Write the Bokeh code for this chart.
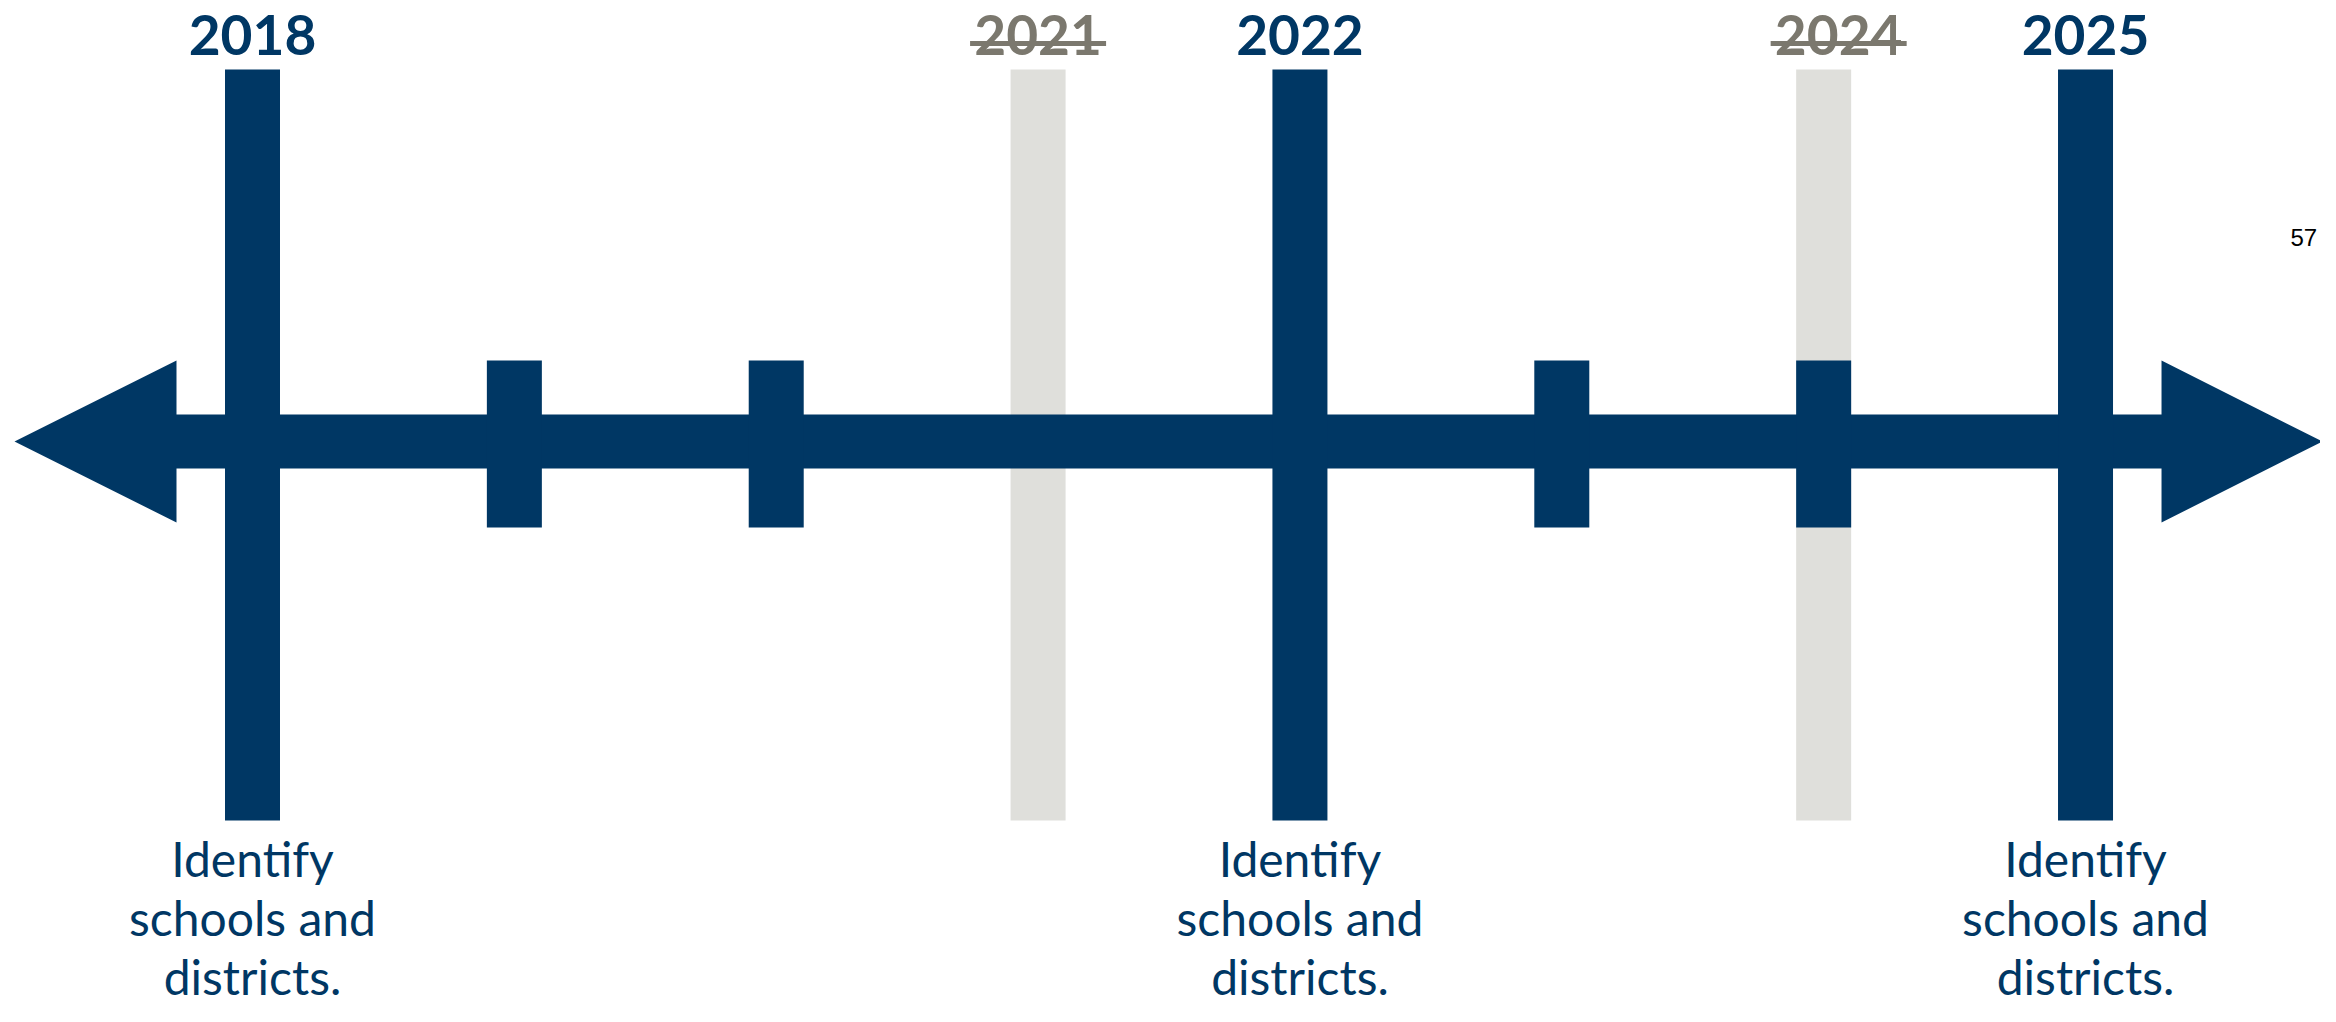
from bokeh.plotting import figure
from bokeh.models import Range1d
from bokeh.core.properties import value
from bokeh.embed import file_html
from bokeh.resources import INLINE

# ---------------- data ----------------
milestone_years = [2018, 2021, 2022, 2024, 2025]
milestone_status = ["active", "cancelled", "active", "cancelled", "active"]
minor_tick_years = [2019, 2020, 2023, 2024]
label_years = [2018, 2022, 2025]
label_text = ["Identify\nschools and\ndistricts."] * 3
page_number = "57"

NAVY = "#003764"
GRAY_BAR = "#dfdfdb"
GRAY_TEXT = "#7b786e"

PX_PER_YEAR = 261.86
W, H = 2320, 1006
x0 = min(milestone_years) - 252 / PX_PER_YEAR
x1 = x0 + W / PX_PER_YEAR
y_top = 441
y_bot = y_top - H  # data units = pixels above axis line

p = figure(width=W, height=H, output_backend="svg", toolbar_location=None,
           x_range=Range1d(x0, x1), y_range=Range1d(y_bot, y_top),
           min_border=0, background_fill_color="white", border_fill_color="white")
p.axis.visible = False
p.grid.visible = False
p.outline_line_color = None

bar_w = 55 / PX_PER_YEAR
long_top, long_bot = 372, -379
tick_top, tick_bot = 81, -86

active = [y for y, s in zip(milestone_years, milestone_status) if s == "active"]
cancelled = [y for y, s in zip(milestone_years, milestone_status) if s == "cancelled"]

# cancelled (gray) long bars behind everything
p.vbar(x=cancelled, width=bar_w, top=long_top, bottom=long_bot,
       fill_color=GRAY_BAR, line_color=None)

# double-headed arrow
first, last = min(milestone_years), max(milestone_years)
lt, lb = first - 238 / PX_PER_YEAR, first - 76 / PX_PER_YEAR
rb, rt = last + 76 / PX_PER_YEAR, last + 237 / PX_PER_YEAR
sh, hh = 27, 81
p.patch(x=[lt, lb, lb, rb, rb, rt, rb, rb, lb, lb],
        y=[0, hh, sh, sh, hh, 0, -hh, -sh, -sh, -hh],
        fill_color=NAVY, line_color=None)

# active long bars and short ticks
p.vbar(x=active, width=bar_w, top=long_top, bottom=long_bot,
       fill_color=NAVY, line_color=None)
p.vbar(x=minor_tick_years, width=bar_w, top=tick_top, bottom=tick_bot,
       fill_color=NAVY, line_color=None)

# year labels
nudge = {2024: 15}
for yr, st in zip(milestone_years, milestone_status):
    col = NAVY if st == "active" else GRAY_TEXT
    dx = nudge.get(yr, 0)
    p.text(x=[yr], y=[407], text=[str(yr)], x_offset=dx,
           text_font=value("Lato"), text_font_style="bold",
           text_font_size="55px", text_color=col,
           text_align="center", text_baseline="alphabetic")
    if st == "cancelled":
        half = 68 / PX_PER_YEAR
        sx = yr + dx / PX_PER_YEAR
        p.segment(x0=[sx - half], y0=[398], x1=[sx + half], y1=[398],
                  line_color=col, line_width=5)

# bottom labels
for yr, txt in zip(label_years, label_text):
    for i, line in enumerate(txt.split("\n")):
        p.text(x=[yr], y=[-417], text=[line], y_offset=i * 59,
               text_font=value("Lato"), text_font_size="48px",
               text_color=NAVY, text_align="center",
               text_baseline="alphabetic")

# page number
p.text(x=[x0 + 2290 / PX_PER_YEAR], y=[204], text=[page_number],
       text_font=value("Liberation Sans"), text_font_size="24px",
       text_color="black", text_align="left", text_baseline="alphabetic")

open("out.html", "w").write(file_html(p, INLINE))
